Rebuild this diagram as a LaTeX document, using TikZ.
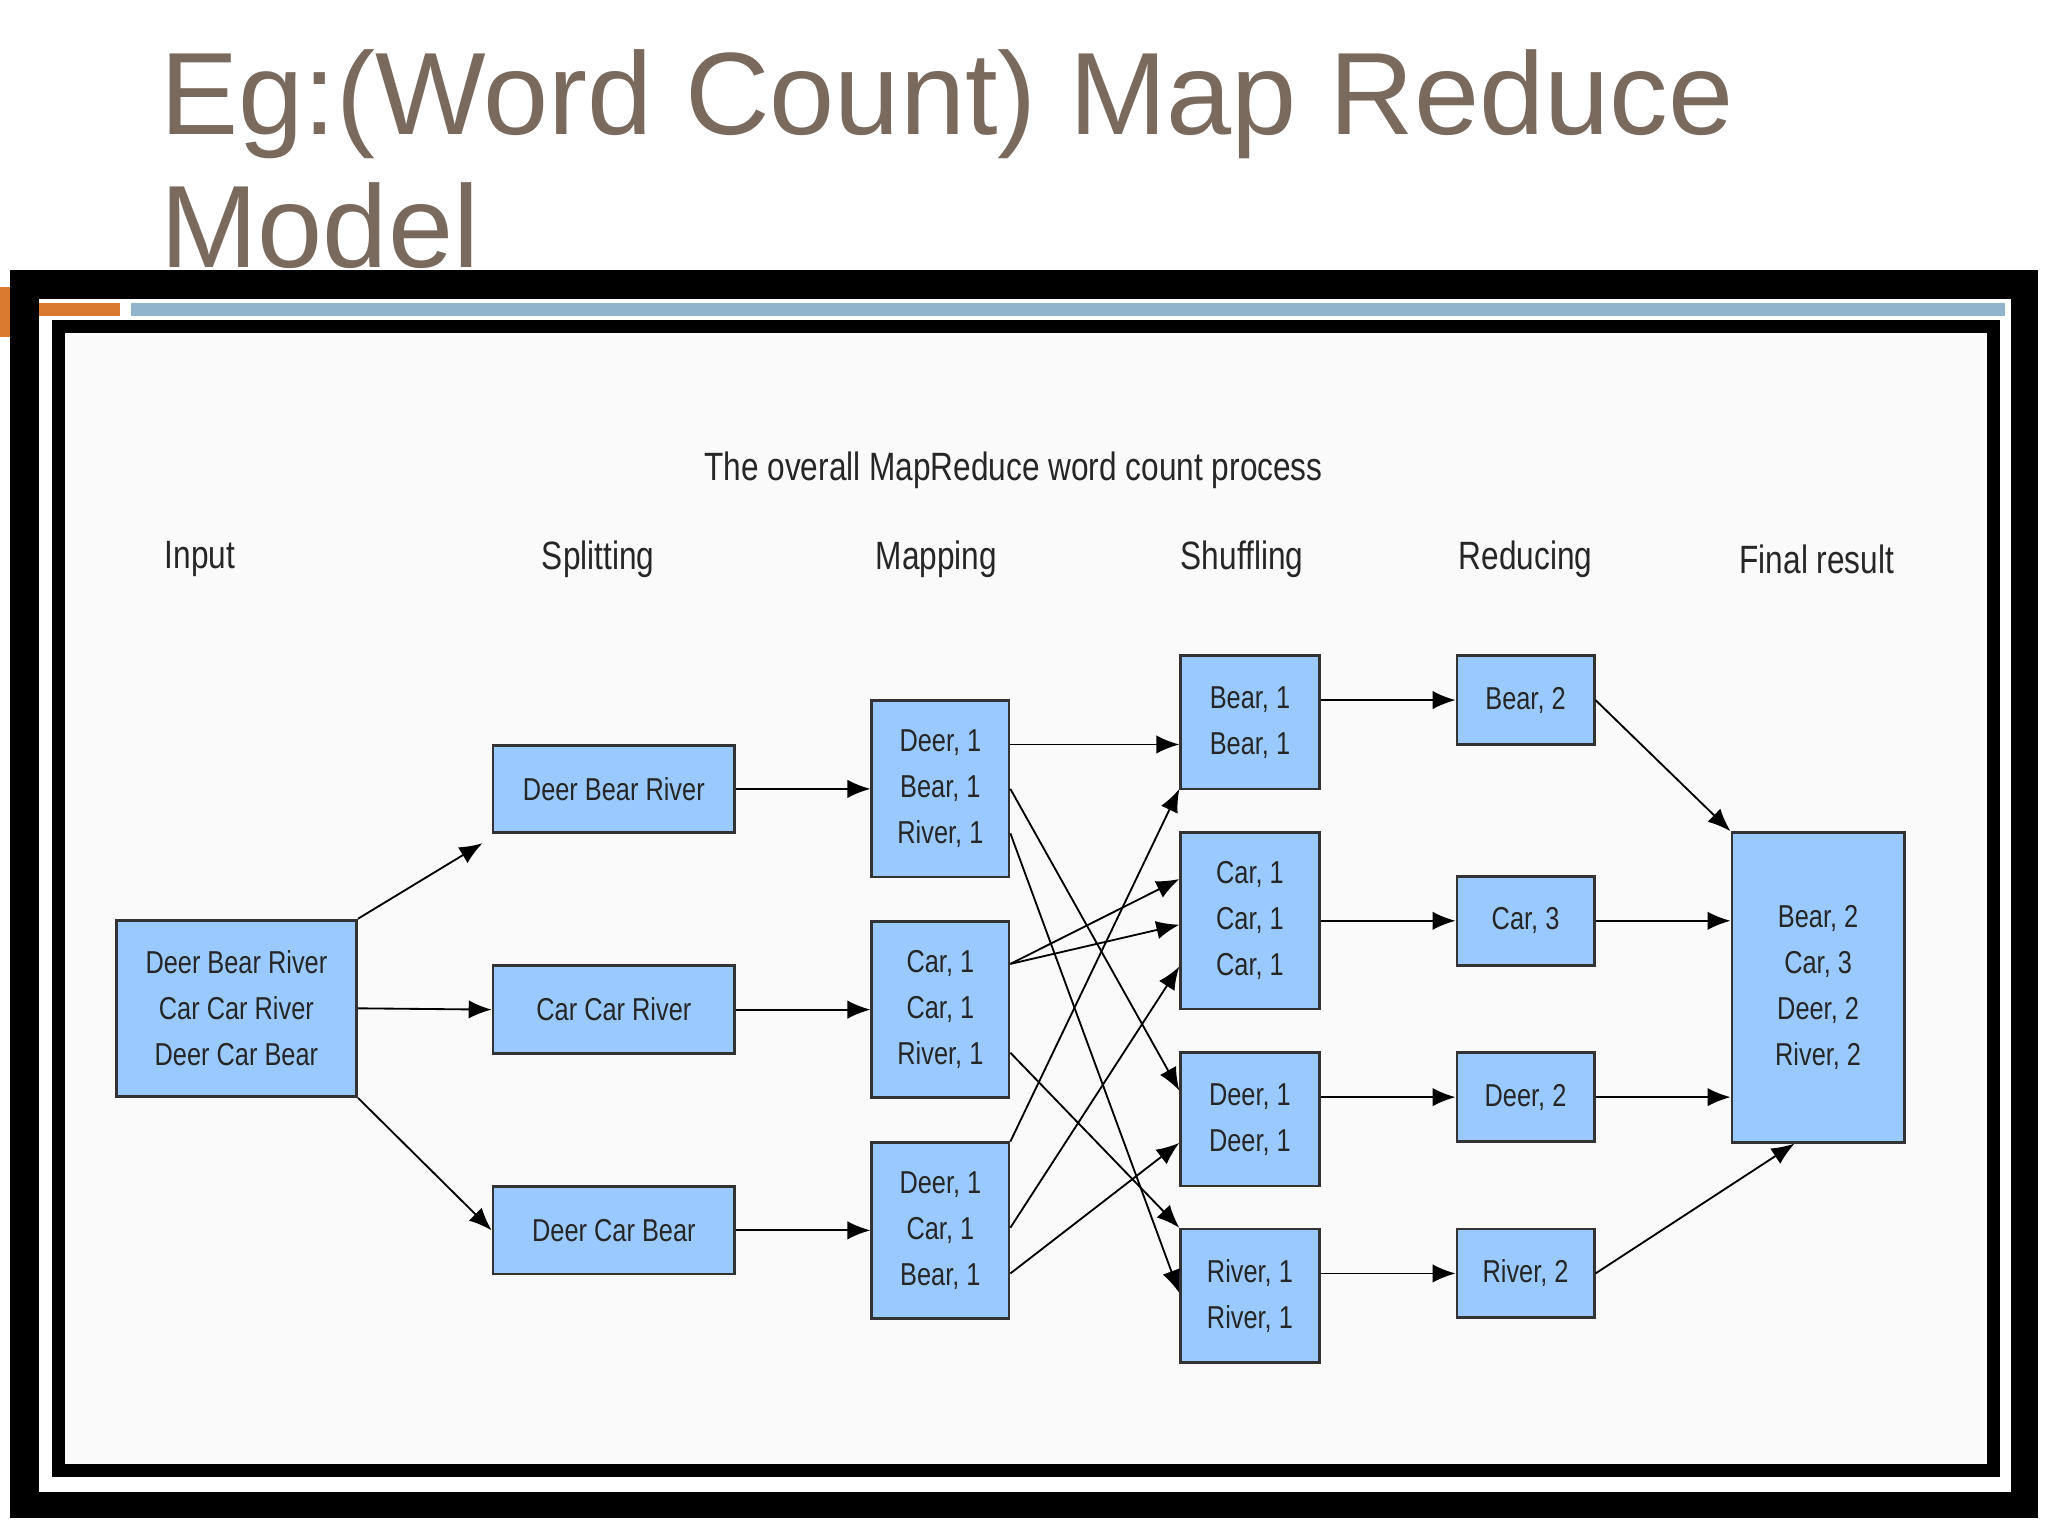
\documentclass[tikz,border=0pt]{standalone}
\usepackage{fontspec}
\setmainfont{Liberation Sans}[FakeStretch=0.8]
\newfontfamily\titlefont{Liberation Sans}
\usetikzlibrary{arrows.meta}
\definecolor{boxblue}{HTML}{99C9FF}
\definecolor{titlec}{HTML}{7A6A5E}
\definecolor{barblue}{HTML}{8FB4CC}
\definecolor{barorange}{HTML}{D9782F}
\tikzset{
 bx/.style={draw=black!80,fill=boxblue,line width=0.6pt,inner sep=0pt,align=center,
   font=\fontsize{6.9}{10}\selectfont,text=black!85},
 hd/.style={font=\fontsize{8.6}{10}\selectfont,text=black!85},
 ar/.style={-{Latex[length=5pt,width=4pt]},line width=0.4pt},
}
\newcommand{\bxat}[5]{\node[bx,minimum width=#3*0.01cm,minimum height=#4*0.01cm] (#1) at (#2) {#5};}
\begin{document}
\begin{tikzpicture}[x=0.01cm,y=-0.01cm]
\useasboundingbox (0,0) rectangle (1568,1176);
\fill[white] (0,0) rectangle (1568,1176);
\node[anchor=base west,inner sep=0,text=titlec,font=\titlefont\fontsize{25.5}{28}\selectfont] (t1) at (122,103) {Eg:(Word Count) Map Reduce};
\node[anchor=base west,inner sep=0,text=titlec,font=\titlefont\fontsize{25.5}{28}\selectfont] (t2) at (122,205) {Model};
\fill[black] (8,207) rectangle (1560,1162);
\fill[white] (30,229) rectangle (1540,1142);
\fill[barorange] (0,220) rectangle (8,258);
\fill[barorange] (30,232) rectangle (92,242);
\fill[barblue] (100,232) rectangle (1535,242);
\draw[line width=10*0.01cm,fill=black!2] (45,250) rectangle (1526,1126);
\node[hd] (ttl) at (776,360) {The overall MapReduce word count process};
\node[hd] (h1) at (153,428) {Input};
\node[hd] (h2) at (458,428) {Splitting};
\node[hd] (h3) at (717,428) {Mapping};
\node[hd] (h4) at (951,428) {Shuffling};
\node[hd] (h5) at (1168,428) {Reducing};
\node[hd] (h6) at (1391,428) {Final result};
\bxat{in}{181,772}{184}{135}{Deer Bear River\\Car Car River\\Deer Car Bear}
\bxat{s1}{470,604}{185}{67}{Deer Bear River}
\bxat{s2}{470,773}{185}{67}{Car Car River}
\bxat{s3}{470,942}{185}{67}{Deer Car Bear}
\bxat{m1}{720,604}{105}{135}{Deer, 1\\Bear, 1\\River, 1}
\bxat{m2}{720,773}{105}{135}{Car, 1\\Car, 1\\River, 1}
\bxat{m3}{720,942}{105}{135}{Deer, 1\\Car, 1\\Bear, 1}
\bxat{u1}{957,553}{106}{102}{Bear, 1\\Bear, 1}
\bxat{u2}{957,705}{106}{135}{Car, 1\\Car, 1\\Car, 1}
\bxat{u3}{957,857}{106}{102}{Deer, 1\\Deer, 1}
\bxat{u4}{957,992}{106}{102}{River, 1\\River, 1}
\bxat{r1}{1168,536}{105}{68}{Bear, 2}
\bxat{r2}{1168,705}{105}{68}{Car, 3}
\bxat{r3}{1168,840}{105}{68}{Deer, 2}
\bxat{r4}{1168,975}{105}{68}{River, 2}
\bxat{f}{1392,756}{132}{237}{Bear, 2\\Car, 3\\Deer, 2\\River, 2}
\draw[ar] (in.north east) -- ([xshift=-2pt,yshift=-2pt]s1.south west);
\draw[ar] (in.east) -- (s2.west);
\draw[ar] (in.south east) -- (s3.west);
\foreach \a/\b in {s1/m1,s2/m2,s3/m3}{\draw[ar] (\a.east) -- (\b.west);}
\draw[ar] (m1.east|-0,570) -- (u1.west|-0,570);
\draw[ar] (m1.east|-0,604) -- (u3.west|-0,835);
\draw[ar] (m1.east|-0,638) -- (u4.west|-0,990);
\draw[ar] (m2.east|-0,738) -- (u2.west|-0,673);
\draw[ar] (m2.east|-0,738) -- (u2.west|-0,708);
\draw[ar] (m2.east|-0,806) -- (u4.west|-0,940);
\draw[ar] (m3.east|-0,874) -- (u1.west|-0,604);
\draw[ar] (m3.east|-0,940) -- (u2.west|-0,740);
\draw[ar] (m3.east|-0,975) -- (u3.west|-0,875);
\foreach \a/\b in {u1/r1,u3/r3,u4/r4}{\draw[ar] (\a.east|-\b.west) -- (\b.west);}
\draw[ar] (u2.east) -- (r2.west);
\draw[ar] (r1.east) -- (f.north west);
\draw[ar] (r2.east) -- (f.west|-r2.east);
\draw[ar] (r3.east) -- (f.west|-r3.east);
\draw[ar] (r4.east) -- ([xshift=0.49cm]f.south west);
\end{tikzpicture}
\end{document}
